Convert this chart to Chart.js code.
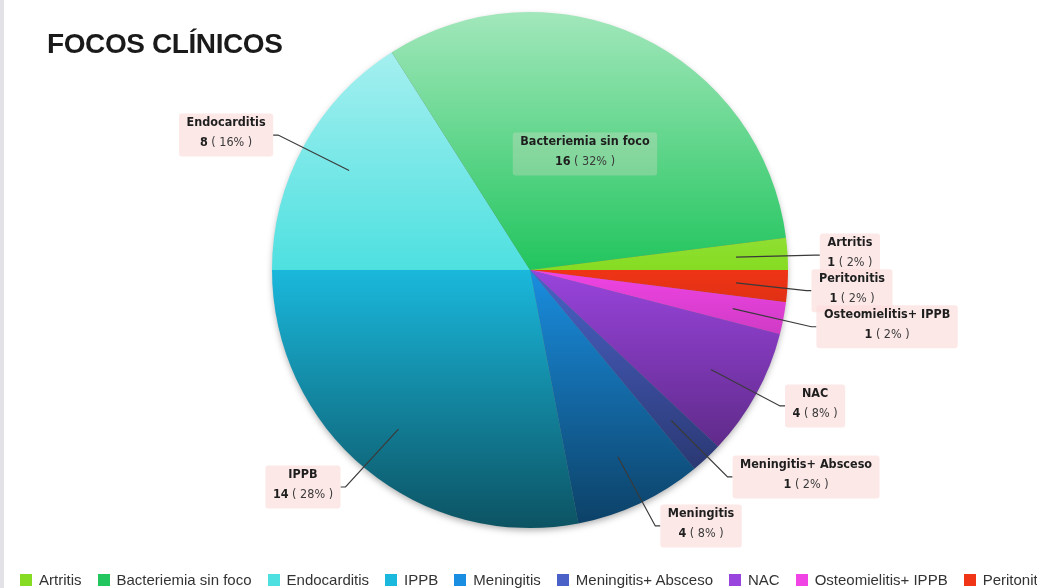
<!DOCTYPE html>
<html>
<head>
<meta charset="utf-8">
<script src="https://cdn.jsdelivr.net/npm/chart.js@4"></script>
<style>
  html, body { margin:0; padding:0; background:#fff; overflow:hidden; }
  #wrap { position:relative; width:1037px; height:588px; overflow:hidden; }
  #strip { position:absolute; left:0; top:0; width:4px; height:588px; background:#e3e3e7; }
  #c { position:absolute; left:0; top:0; }
  #title { position:absolute; left:47px; top:30px; font-family:"Liberation Sans", Arial, sans-serif; font-weight:bold;
           font-size:28px; line-height:28px; letter-spacing:-0.4px; color:#1a1a1a; white-space:nowrap; }
  #legend { position:absolute; left:20px; top:571px; height:18px; width:1017px; overflow:hidden; white-space:nowrap;
            font-family:"Liberation Sans", Arial, sans-serif; font-size:15px; line-height:18px; color:#333; }
  .item { display:inline-block; margin-right:16px; }
  .sw { display:inline-block; width:12px; height:12px; vertical-align:-1px; margin-right:7px; }
</style>
</head>
<body>
<div id="wrap">
  <div id="strip"></div>
  <canvas id="c" width="1037" height="588"></canvas>
  <div id="title">FOCOS CLÍNICOS</div>
  <div id="legend"></div>
</div>
<script>
// ---- data ----
const categories = ['Artritis','Bacteriemia sin foco','Endocarditis','IPPB','Meningitis','Meningitis+ Absceso','NAC','Osteomielitis+ IPPB','Peritonitis'];
const counts = [1, 16, 8, 14, 4, 1, 4, 1, 1];
const colors = ['#86dc22','#22c55e','#4ee0e0','#1ab8dc','#1a8ee0','#4a62c8','#9944dd','#f044e4','#f03416'];

// ---- label placement (in units of pie radius, relative to centre) ----
const labelPos = [[1.24,-0.058],[0.213,-0.45],[-1.178,-0.523],[-0.88,0.841],[0.663,0.992],[1.07,0.802],[1.105,0.527],[1.384,0.22],[1.248,0.08]];
const insideLabel = [false,true,false,false,false,false,false,false,false];

const total = counts.reduce((a,b)=>a+b,0);

// Chart.js draws clockwise; the reference runs counter-clockwise from 3 o'clock
const order = categories.map((_,i)=>i).reverse();
const chartLabels = order.map(i=>categories[i]);
const chartData = order.map(i=>counts[i]);
const chartColors = order.map(i=>colors[i]);

function hexRgb(h){ h=h.replace('#',''); return [parseInt(h.substr(0,2),16),parseInt(h.substr(2,2),16),parseInt(h.substr(4,2),16)]; }
function mix(c, t, w){ return 'rgb('+c.map((v,k)=>Math.round(v+(t[k]-v)*w)).join(',')+')'; }

function sliceFill(ctx){
  const chart = ctx.chart, ca = chart.chartArea;
  const base = chartColors[ctx.dataIndex];
  if (!ca) return base;
  const cy = (ca.top+ca.bottom)/2, r = Math.min(ca.right-ca.left, ca.bottom-ca.top)/2;
  const g = chart.ctx.createLinearGradient(0, cy-r, 0, cy+r);
  const c = hexRgb(base);
  g.addColorStop(0, mix(c,[255,255,255],0.58));
  g.addColorStop(0.5, base);
  g.addColorStop(1, mix(c,[0,0,0],0.55));
  return g;
}

const shadowPlugin = {
  id:'shadow',
  beforeDatasetsDraw(chart){
    const a = chart.getDatasetMeta(0).data[0]; if(!a) return;
    const ctx = chart.ctx; ctx.save();
    ctx.beginPath(); ctx.arc(a.x, a.y, a.outerRadius-1, 0, Math.PI*2);
    ctx.shadowColor='rgba(0,0,0,0.35)'; ctx.shadowBlur=7; ctx.shadowOffsetY=3;
    ctx.fillStyle='#777'; ctx.fill(); ctx.restore();
  }
};

const BOLD = 'bold 12.5px "DejaVu Sans Condensed", "DejaVu Sans", sans-serif';
const NORM = '12.5px "DejaVu Sans Condensed", "DejaVu Sans", sans-serif';

const labelPlugin = {
  id:'callouts',
  afterDatasetsDraw(chart){
    const ctx = chart.ctx, meta = chart.getDatasetMeta(0);
    const boxes = [];
    meta.data.forEach((arc, di)=>{
      const i = order[di];
      const r = arc.outerRadius, cx = arc.x, cy0 = arc.y;
      const mid = (arc.startAngle+arc.endAngle)/2;
      const ax = cx + Math.cos(mid)*r*0.8, ay = cy0 + Math.sin(mid)*r*0.8;
      const bx = cx + labelPos[i][0]*r, by = cy0 + labelPos[i][1]*r;
      const name = categories[i];
      const v = String(counts[i]);
      const rest = ' ( ' + Math.round(counts[i]/total*100) + '% )';
      ctx.font = BOLD; const w1 = ctx.measureText(name).width; const wv = ctx.measureText(v).width;
      ctx.font = NORM; const wr = ctx.measureText(rest).width;
      const w = Math.max(w1, wv+wr) + 15, h = 43;
      boxes.push({i, ax, ay, bx, by, name, v, rest, w1, wv, wr, w, h, left: bx - w/2, top: by - h/2});
    });
    ctx.save();
    // leader lines
    boxes.forEach(b=>{
      if (insideLabel[b.i]) return;
      const edge = b.bx > b.ax ? b.left : b.left + b.w;
      const tick = b.bx > b.ax ? -5 : 5;
      ctx.beginPath(); ctx.moveTo(b.ax, b.ay); ctx.lineTo(edge+tick, b.by); ctx.lineTo(edge, b.by);
      ctx.strokeStyle='#3a3a3a'; ctx.lineWidth=1.2; ctx.stroke();
    });
    // boxes
    boxes.forEach(b=>{
      ctx.beginPath();
      if (ctx.roundRect) ctx.roundRect(b.left, b.top, b.w, b.h, 3); else ctx.rect(b.left, b.top, b.w, b.h);
      ctx.fillStyle = insideLabel[b.i] ? 'rgba(255,225,225,0.25)' : 'rgba(252,222,222,0.7)';
      ctx.fill();
    });
    // texts
    boxes.forEach(b=>{
      ctx.fillStyle = '#1e1e1e'; ctx.textBaseline='alphabetic'; ctx.textAlign='left';
      ctx.font = BOLD; ctx.fillText(b.name, b.bx - b.w1/2, b.by - 9);
      const sx = b.bx - (b.wv+b.wr)/2;
      ctx.fillText(b.v, sx, b.by + 11);
      ctx.font = NORM; ctx.fillStyle='#3a3a3a'; ctx.fillText(b.rest, sx + b.wv, b.by + 11);
    });
    ctx.restore();
  }
};

new Chart(document.getElementById('c'), {
  type:'pie',
  data:{ labels: chartLabels, datasets:[{ data: chartData, backgroundColor: sliceFill, borderWidth:0, hoverOffset:0, offset:0 }] },
  options:{
    responsive:false, animation:false, rotation:90,
    layout:{ padding:{ left:272, right:249, top:12, bottom:60 } },
    plugins:{ legend:{ display:false }, tooltip:{ enabled:false } },
    events:[]
  },
  plugins:[shadowPlugin, labelPlugin]
});

// legend (HTML, clipped at right like the reference)
const lg = document.getElementById('legend');
categories.forEach((name,i)=>{
  const it = document.createElement('span'); it.className='item';
  const sw = document.createElement('span'); sw.className='sw'; sw.style.background = colors[i];
  it.appendChild(sw); it.appendChild(document.createTextNode(name));
  lg.appendChild(it);
});
</script>
</body>
</html>
